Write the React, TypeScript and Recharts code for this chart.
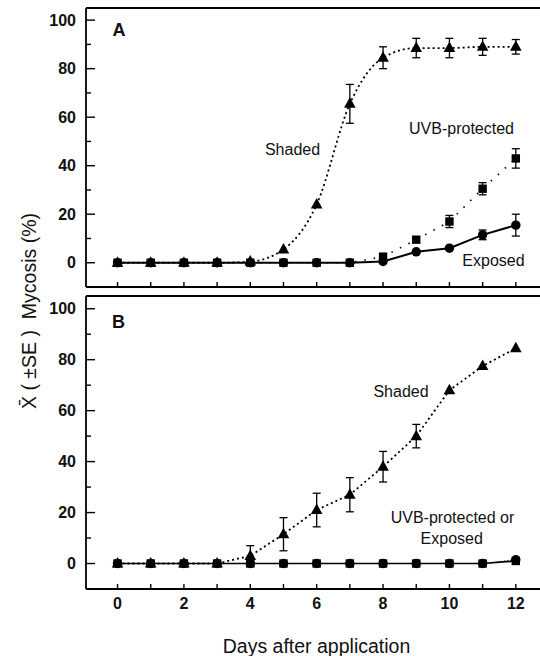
import React from 'react';
import { LineChart, Line, XAxis, YAxis, ErrorBar, ReferenceLine } from 'recharts';

const days = [0, 1, 2, 3, 4, 5, 6, 7, 8, 9, 10, 11, 12];

// Panel A
const shadedA = [0, 0, 0, 0, 0.5, 5.5, 24, 65.5, 84.5, 88.5, 88.5, 89, 89];
const shadedAErr = [0, 0, 0, 0, 0, 0, 0, 8, 4.5, 4, 4, 3.5, 3];
const uvbA = [0, 0, 0, 0, 0, 0, 0, 0, 2.5, 9.5, 17, 30.5, 43];
const uvbAErr = [0, 0, 0, 0, 0, 0, 0, 0, 0, 0, 2.5, 2.5, 4];
const exposedA = [0, 0, 0, 0, 0, 0, 0, 0, 0.5, 4.5, 6, 11.5, 15.5];
const exposedAErr = [0, 0, 0, 0, 0, 0, 0, 0, 0, 0, 0, 2, 4.5];

// Panel B
const shadedB = [0, 0, 0, 0, 3, 11.5, 21, 27, 38, 50, 68, 77.5, 84.5];
const shadedBErr = [0, 0, 0, 0, 4, 6.5, 6.6, 6.7, 6, 4.6, 0, 0, 0];
const uvbB = [0, 0, 0, 0, 0, 0, 0, 0, 0, 0, 0, 0, 1];
const exposedB = [0, 0, 0, 0, 0, 0, 0, 0, 0, 0, 0, 0, 1.5];

const yTicks = [0, 10, 20, 30, 40, 50, 60, 70, 80, 90, 100];
const xTicks = days;
const yDomain: [number, number] = [-10, 105];
const xDomain: [number, number] = [-0.95, 13];

const FONT = '"Liberation Sans", Arial, Helvetica, sans-serif';

const dataA = days.map((d, i) => ({
  day: d,
  shaded: shadedA[i],
  shadedErr: shadedAErr[i],
  uvb: uvbA[i],
  uvbErr: uvbAErr[i],
  exposed: exposedA[i],
  exposedErr: exposedAErr[i],
}));

const dataB = days.map((d, i) => ({
  day: d,
  shaded: shadedB[i],
  shadedErr: shadedBErr[i],
  uvb: uvbB[i],
  exposed: exposedB[i],
}));

const Triangle = (props: any) => {
  const { cx, cy } = props;
  if (cx == null || cy == null) return <g />;
  return <path d={`M${cx},${cy - 6.5} L${cx + 5.8},${cy + 4} L${cx - 5.8},${cy + 4} Z`} fill="#000" />;
};
const Square = (props: any) => {
  const { cx, cy } = props;
  if (cx == null || cy == null) return <g />;
  return <rect x={cx - 4.2} y={cy - 4.2} width={8.4} height={8.4} fill="#000" />;
};
const Circle = (props: any) => {
  const { cx, cy } = props;
  if (cx == null || cy == null) return <g />;
  return <circle cx={cx} cy={cy} r={4.7} fill="#000" />;
};

const YTick = (props: any) => {
  const { x, y, payload } = props;
  const v = payload.value;
  const major = v % 20 === 0;
  const ax = x + 10;
  return (
    <g>
      <line x1={ax} x2={ax + (major ? 9 : 5)} y1={y} y2={y} stroke="#000" strokeWidth={1.4} />
      {major && (
        <text x={x} y={y} dy="0.36em" textAnchor="end" fontSize={16} fontWeight="bold" fontFamily={FONT} fill="#111">
          {v}
        </text>
      )}
    </g>
  );
};

const XTickA = (props: any) => {
  const { x, y } = props;
  return <line x1={x} x2={x} y1={y} y2={y - 5} stroke="#000" strokeWidth={1.4} />;
};

const XTickB = (props: any) => {
  const { x, y, payload } = props;
  const v = payload.value;
  return (
    <g>
      <line x1={x} x2={x} y1={y} y2={y - 5} stroke="#000" strokeWidth={1.4} />
      {v % 2 === 0 && (
        <text x={x} y={y + 20} textAnchor="middle" fontSize={16} fontWeight="bold" fontFamily={FONT} fill="#111">
          {v}
        </text>
      )}
    </g>
  );
};

const axisStroke = { stroke: '#000', strokeWidth: 1.8 };

export default function App() {
  return (
    <div style={{ position: 'absolute', left: 0, top: 0, width: 540, height: 656, overflow: 'hidden', background: '#fff' }}>
      <div style={{ position: 'absolute', left: 0, top: 0 }}>
        <LineChart width={560} height={300} data={dataA} margin={{ top: 8, right: 11, bottom: 0, left: 0 }}>
          <XAxis dataKey="day" type="number" domain={xDomain} ticks={xTicks} allowDataOverflow height={13}
            interval={0} tickSize={0} tickMargin={0} tickLine={false} tick={XTickA} axisLine={axisStroke} />
          <YAxis type="number" domain={yDomain} ticks={yTicks} allowDataOverflow width={86} interval={0}
            tickSize={0} tickMargin={10} tickLine={false} tick={YTick} axisLine={axisStroke} />
          <ReferenceLine y={105} stroke="#000" strokeWidth={1.8} />
          <Line dataKey="shaded" type="monotone" stroke="#000" strokeWidth={1.8} strokeDasharray="2 3"
            dot={Triangle} activeDot={false} isAnimationActive={false}>
            <ErrorBar dataKey="shadedErr" direction="y" width={4} stroke="#000" strokeWidth={1.3} />
          </Line>
          <Line dataKey="uvb" type="linear" stroke="#000" strokeWidth={1.6} strokeDasharray="1.5 8"
            dot={Square} activeDot={false} isAnimationActive={false}>
            <ErrorBar dataKey="uvbErr" direction="y" width={4} stroke="#000" strokeWidth={1.3} />
          </Line>
          <Line dataKey="exposed" type="linear" stroke="#000" strokeWidth={2}
            dot={Circle} activeDot={false} isAnimationActive={false}>
            <ErrorBar dataKey="exposedErr" direction="y" width={4} stroke="#000" strokeWidth={1.3} />
          </Line>
        </LineChart>
      </div>
      <div style={{ position: 'absolute', left: 0, top: 290 }}>
        <LineChart width={560} height={366} data={dataB} margin={{ top: 6, right: 11, bottom: 0, left: 0 }}>
          <XAxis dataKey="day" type="number" domain={xDomain} ticks={xTicks} allowDataOverflow height={67}
            interval={0} tickSize={0} tickMargin={0} tickLine={false} tick={XTickB} axisLine={axisStroke} />
          <YAxis type="number" domain={yDomain} ticks={yTicks} allowDataOverflow width={86} interval={0}
            tickSize={0} tickMargin={10} tickLine={false} tick={YTick} axisLine={axisStroke} />
          <ReferenceLine y={105} stroke="#000" strokeWidth={1.8} />
          <Line dataKey="shaded" type="linear" stroke="#000" strokeWidth={1.8} strokeDasharray="2 3"
            dot={Triangle} activeDot={false} isAnimationActive={false}>
            <ErrorBar dataKey="shadedErr" direction="y" width={4} stroke="#000" strokeWidth={1.3} />
          </Line>
          <Line dataKey="uvb" type="linear" stroke="#000" strokeWidth={1.6}
            dot={Square} activeDot={false} isAnimationActive={false} />
          <Line dataKey="exposed" type="linear" stroke="#000" strokeWidth={1.2} strokeDasharray="1 2"
            dot={Circle} activeDot={false} isAnimationActive={false} />
        </LineChart>
      </div>
      <svg width={540} height={656} style={{ position: 'absolute', left: 0, top: 0, pointerEvents: 'none' }}>
        <g fontFamily={FONT} fill="#111">
          <text x={119} y={36} textAnchor="middle" fontSize={18} fontWeight="bold">A</text>
          <text x={118.5} y={328} textAnchor="middle" fontSize={18} fontWeight="bold">B</text>
          <text x={292.5} y={155} textAnchor="middle" fontSize={16}>Shaded</text>
          <text x={461.5} y={134} textAnchor="middle" fontSize={16}>UVB-protected</text>
          <text x={493.5} y={266} textAnchor="middle" fontSize={16}>Exposed</text>
          <text x={401} y={397} textAnchor="middle" fontSize={16}>Shaded</text>
          <text x={452.5} y={523} textAnchor="middle" fontSize={16}>UVB-protected or</text>
          <text x={451.7} y={544} textAnchor="middle" fontSize={16}>Exposed</text>
          <text x={316.5} y={653} textAnchor="middle" fontSize={19.5}>Days after application</text>
          <text x={36} y={311} textAnchor="middle" fontSize={19.5} transform="rotate(-90 36 311)" style={{ whiteSpace: 'pre' }}>
            {'X\u0304 ( ±SE )  Mycosis (%)'}
          </text>
        </g>
      </svg>
    </div>
  );
}
